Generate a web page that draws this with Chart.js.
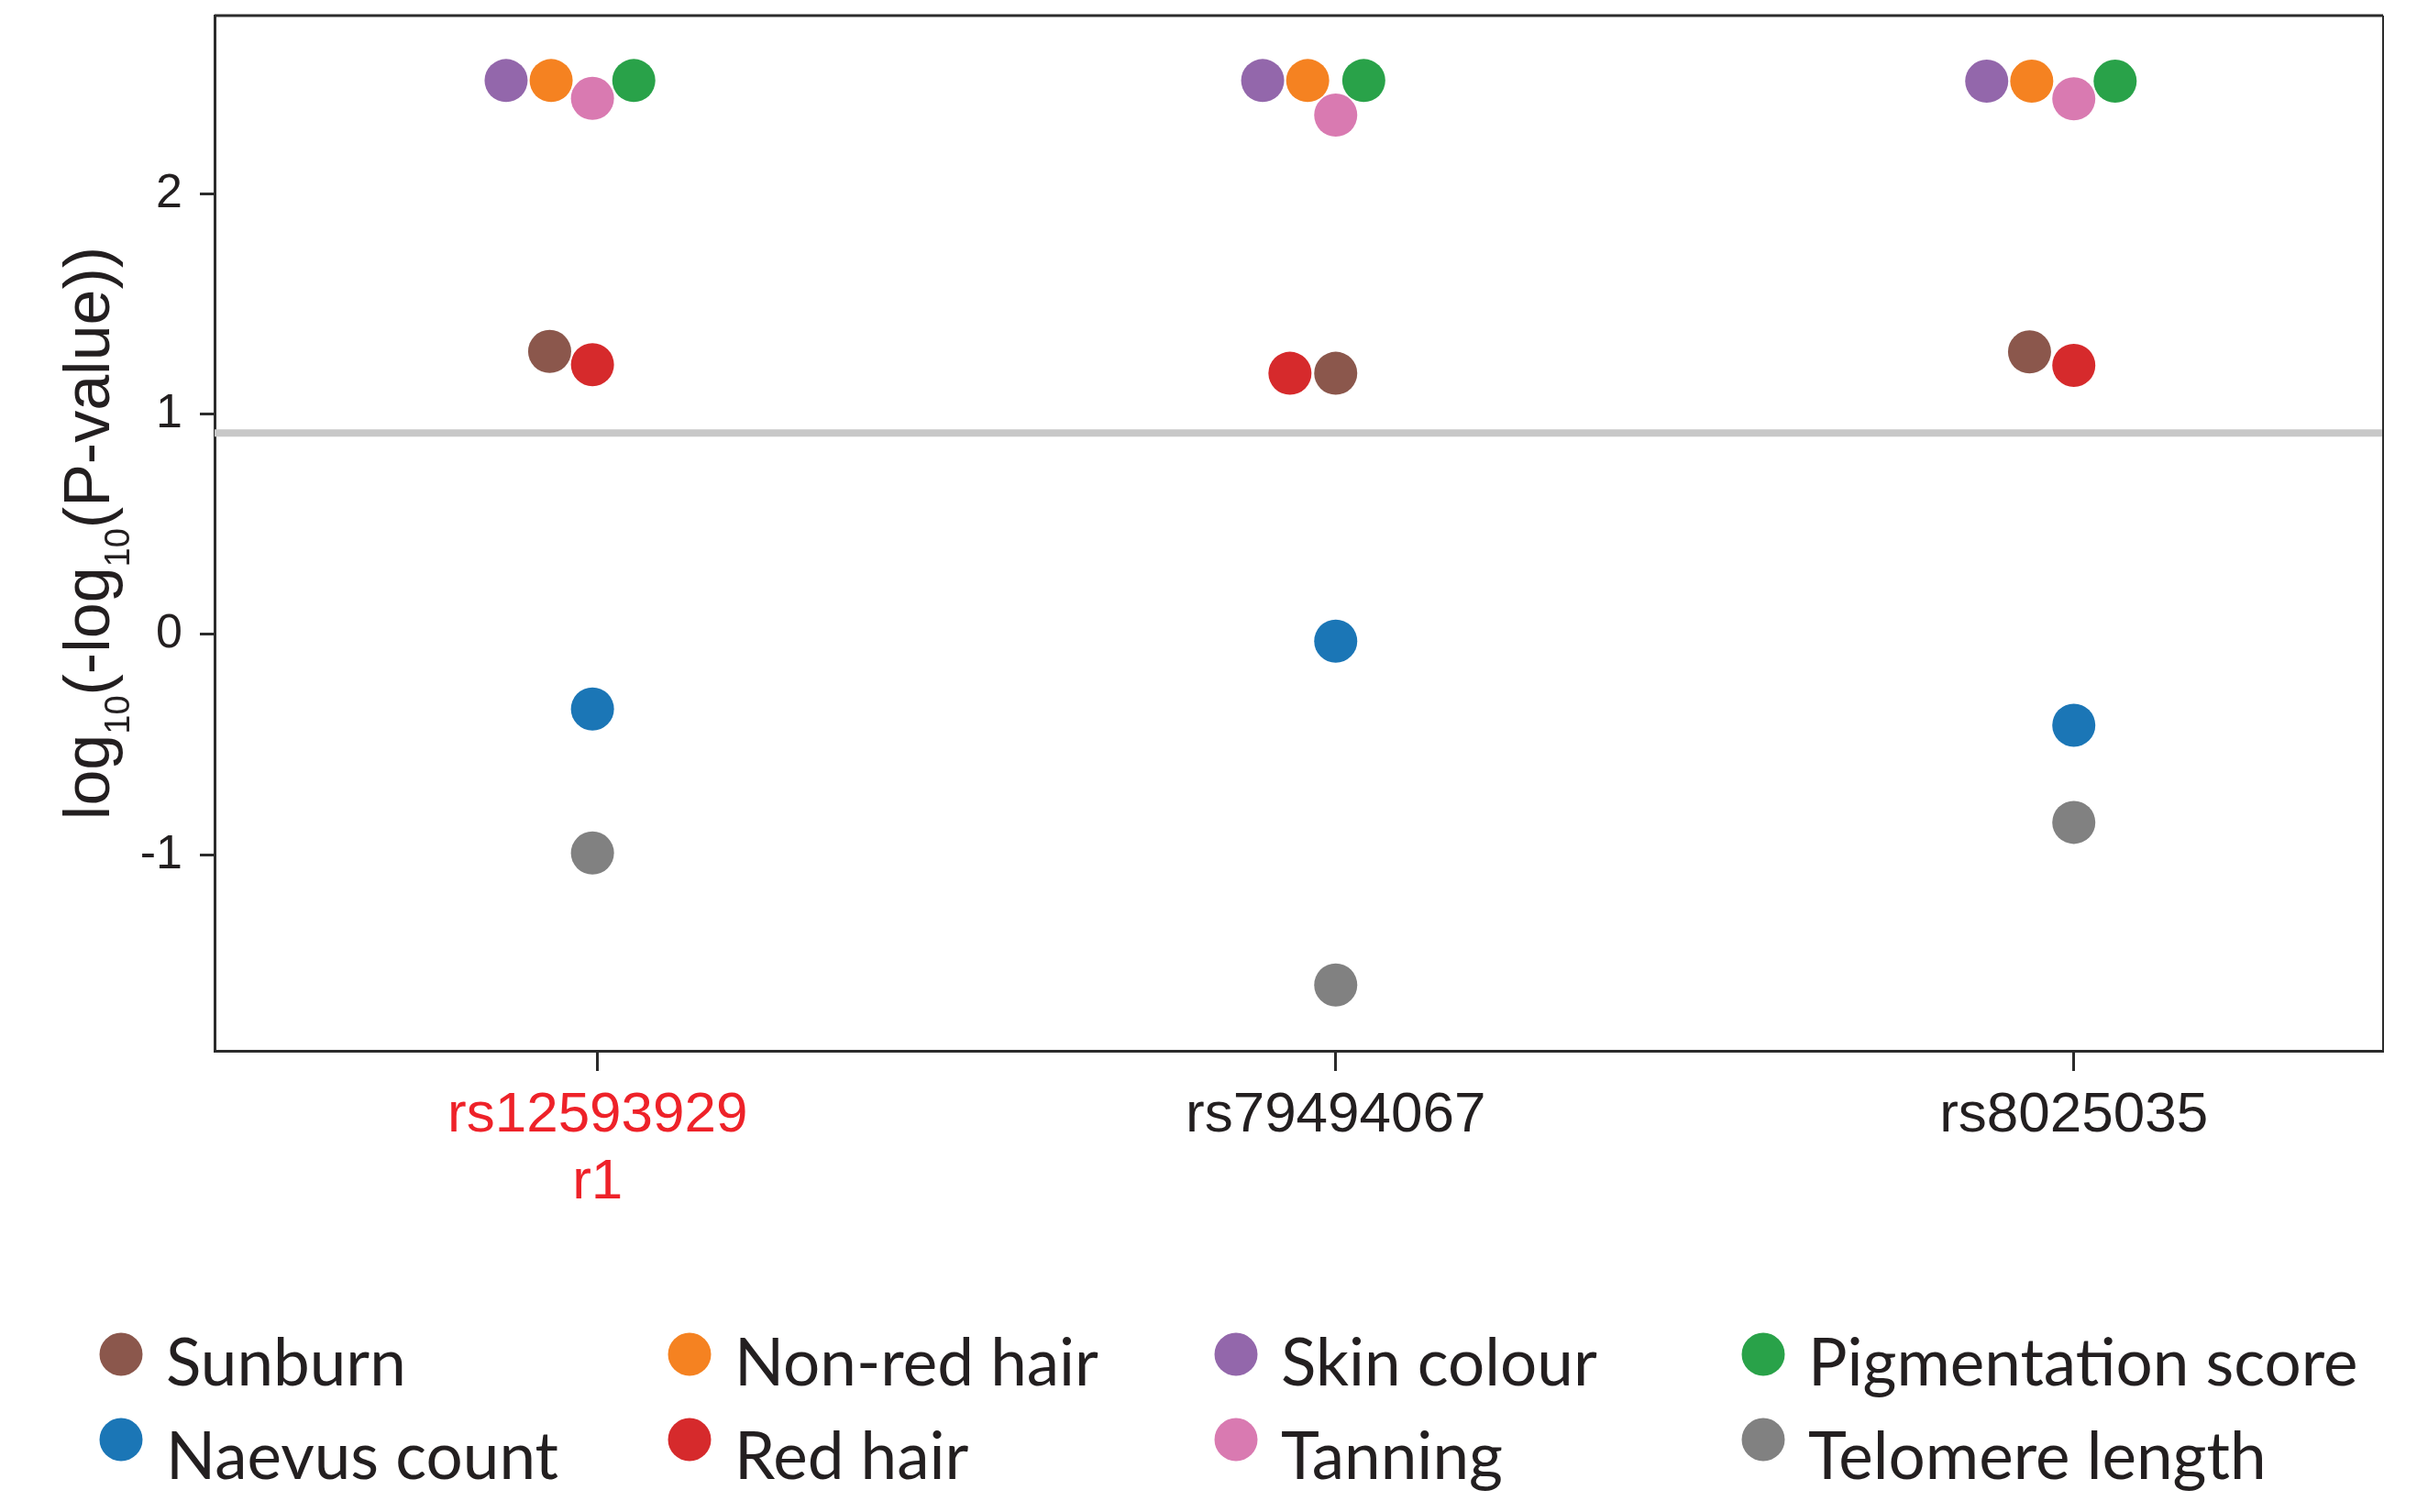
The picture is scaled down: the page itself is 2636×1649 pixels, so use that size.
<!DOCTYPE html>
<html>
<head>
<meta charset="utf-8">
<script src="https://cdn.jsdelivr.net/npm/chart.js@4"></script>
<style>
  body { margin: 0; background: #fff; }
  #wrap { width: 2636px; height: 1649px; }
</style>
</head>
<body>
<div id="wrap"><canvas id="traitChart" width="2636" height="1649"></canvas></div>
<script>
// SNPs on the x axis
const snpLabels = [['rs12593929', 'r1'], 'rs79494067', 'rs8025035'];
const snpPos = [1, 2, 3];
const snpLabelColours = ['#ee2229', '#231f20', '#231f20'];
const yTicks = [-1, 0, 1, 2];
const threshold = 0.915;

// log10(-log10(P)) per trait, one value per SNP
const sunburn = [1.285, 1.186, 1.283];
const nonRedHair = [2.515, 2.515, 2.512];
const skinColour = [2.515, 2.515, 2.512];
const pigmentation = [2.515, 2.515, 2.512];
const naevusCount = [-0.338, -0.030, -0.412];
const redHair = [1.225, 1.186, 1.222];
const tanning = [2.434, 2.358, 2.432];
const telomere = [-0.992, -1.591, -0.853];

// horizontal swarm offsets (x units) so dots don't sit on top of each other
const sunburnJit = [-0.065, 0, -0.060];
const nonRedHairJit = [-0.063, -0.038, -0.057];
const skinColourJit = [-0.124, -0.099, -0.118];
const pigmentationJit = [0.049, 0.038, 0.056];
const naevusJit = [-0.007, 0, 0];
const redHairJit = [-0.007, -0.062, 0];
const tanningJit = [-0.007, 0, 0];
const telomereJit = [-0.007, 0, 0];

const traits = [
    { label: 'Sunburn', values: sunburn, jit: sunburnJit, colour: '#8b574c', order: 1 },
    { label: 'Non-red hair', values: nonRedHair, jit: nonRedHairJit, colour: '#f58221', order: 1 },
    { label: 'Skin colour', values: skinColour, jit: skinColourJit, colour: '#9367ab', order: 1 },
    { label: 'Pigmentation score', values: pigmentation, jit: pigmentationJit, colour: '#29a249', order: 1 },
    { label: 'Naevus count', values: naevusCount, jit: naevusJit, colour: '#1b76b6', order: 1 },
    { label: 'Red hair', values: redHair, jit: redHairJit, colour: '#d62a2c', order: 0 },
    { label: 'Tanning', values: tanning, jit: tanningJit, colour: '#d97ab1', order: 0 },
    { label: 'Telomere length', values: telomere, jit: telomereJit, colour: '#818181', order: 1 }
];

const xMin = 0.481, xMax = 3.419;
const axisColour = '#2b2b2b';

const datasets = traits.map(t => ({
    type: 'scatter',
    label: t.label,
    data: t.values.map((v, i) => ({ x: snpPos[i] + t.jit[i], y: v })),
    backgroundColor: t.colour,
    borderWidth: 0,
    pointRadius: 23.5,
    order: t.order
}));

// grey significance line
datasets.push({
    type: 'line',
    label: 'threshold',
    data: [{ x: xMin, y: threshold }, { x: xMax, y: threshold }],
    borderColor: '#c8c8c8',
    borderWidth: 8,
    pointRadius: 0,
    order: 5
});

// top and right frame lines
const boxPlugin = {
    id: 'box',
    afterDraw(chart) {
        const { ctx, chartArea: a } = chart;
        ctx.save();
        ctx.strokeStyle = axisColour;
        ctx.lineWidth = 3;
        ctx.beginPath();
        ctx.moveTo(a.left, a.top);
        ctx.lineTo(a.right, a.top);
        ctx.stroke();
        ctx.lineWidth = 2;
        ctx.beginPath();
        ctx.moveTo(a.right, a.top);
        ctx.lineTo(a.right, a.bottom);
        ctx.stroke();
        ctx.restore();
    }
};

// y title with subscripts
const yTitlePlugin = {
    id: 'yTitle',
    afterDraw(chart) {
        const parts = [['log', false], ['10', true], ['(-log', false], ['10', true], ['(P-value))', false]];
        const ctx = chart.ctx;
        const main = '70px "Liberation Sans"', sub = '38px "Liberation Sans"';
        let total = 0;
        parts.forEach(p => { ctx.font = p[1] ? sub : main; total += ctx.measureText(p[0]).width; });
        const a = chart.chartArea;
        ctx.save();
        ctx.translate(119, (a.top + a.bottom) / 2);
        ctx.rotate(-Math.PI / 2);
        ctx.fillStyle = '#231f20';
        ctx.textBaseline = 'alphabetic';
        let x = -total / 2;
        parts.forEach(p => {
            ctx.font = p[1] ? sub : main;
            ctx.fillText(p[0], x, p[1] ? 22 : 0);
            x += ctx.measureText(p[0]).width;
        });
        ctx.restore();
    }
};

// legend laid out as a 4 x 2 grid under the plot
const legendCols = [132, 752, 1348, 1923];
const legendDotY = [1477, 1570];
const legendTextY = [1511, 1613];
const legendPlugin = {
    id: 'gridLegend',
    afterDraw(chart) {
        const ctx = chart.ctx;
        ctx.save();
        ctx.font = '71px Lato';
        ctx.textBaseline = 'alphabetic';
        traits.forEach((t, i) => {
            const col = i % 4, row = Math.floor(i / 4);
            ctx.beginPath();
            ctx.arc(legendCols[col], legendDotY[row], 23.5, 0, Math.PI * 2);
            ctx.fillStyle = t.colour;
            ctx.fill();
            ctx.fillStyle = '#231f20';
            ctx.fillText(t.label, legendCols[col] + 49, legendTextY[row]);
        });
        ctx.restore();
    }
};

const ctx = document.getElementById('traitChart').getContext('2d');
new Chart(ctx, {
    data: { datasets: datasets },
    options: {
        responsive: false,
        animation: false,
        events: [],
        layout: { autoPadding: false, padding: { left: 0, right: 37, top: 17, bottom: 0 } },
        plugins: {
            legend: { display: false },
            tooltip: { enabled: false }
        },
        scales: {
            x: {
                type: 'linear',
                min: xMin,
                max: xMax,
                afterBuildTicks: s => { s.ticks = snpPos.map(v => ({ value: v })); },
                afterFit: s => { s.height = 503; s.paddingLeft = 0; s.paddingRight = 0; },
                border: { color: axisColour, width: 3 },
                grid: { drawOnChartArea: false, tickLength: 22, tickWidth: 3, tickColor: axisColour },
                ticks: {
                    autoSkip: false,
                    maxRotation: 0,
                    padding: 12,
                    font: { family: 'Liberation Sans', size: 62, lineHeight: 1.18 },
                    color: c => snpLabelColours[c.index],
                    callback: (v, i) => snpLabels[i]
                }
            },
            y: {
                type: 'linear',
                min: -1.89,
                max: 2.81,
                afterBuildTicks: s => { s.ticks = yTicks.map(v => ({ value: v })); },
                afterFit: s => { s.width = 234; s.paddingTop = 0; s.paddingBottom = 0; },
                border: { color: axisColour, width: 3 },
                grid: { drawOnChartArea: false, tickLength: 16, tickWidth: 3, tickColor: axisColour },
                ticks: {
                    padding: 19,
                    font: { family: 'Liberation Sans', size: 52 },
                    color: '#231f20'
                }
            }
        }
    },
    plugins: [boxPlugin, yTitlePlugin, legendPlugin]
});
</script>
</body>
</html>
